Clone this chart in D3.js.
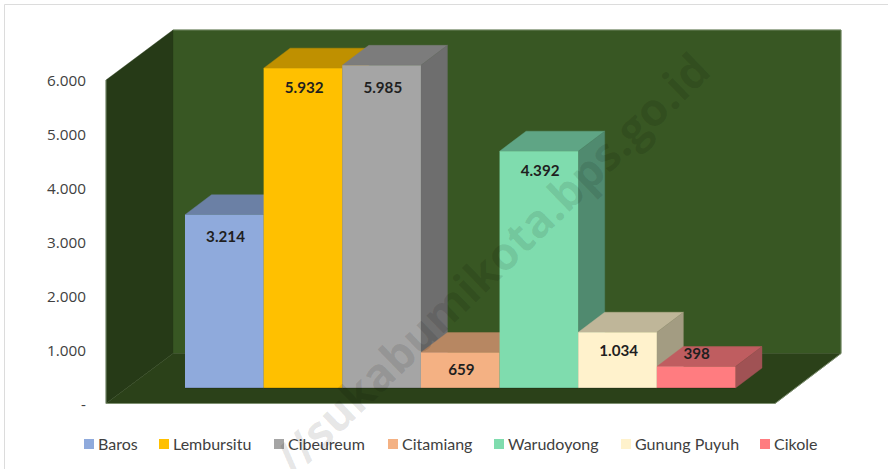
<!DOCTYPE html>
<html><head><meta charset="utf-8">
<script src="https://cdn.jsdelivr.net/npm/d3@7"></script>
<style>html,body{margin:0;padding:0;background:#fff}svg{display:block}text{font-family:Lato,"Open Sans",sans-serif}</style>
</head><body><svg id="c" width="888" height="469"></svg>
<script>
const categories=["Baros","Lembursitu","Cibeureum","Citamiang","Warudoyong","Gunung Puyuh","Cikole"];
const values=[3214,5932,5985,659,4392,1034,398];
const frontColors=["#8faadc","#ffc000","#a5a5a5","#f4b183","#7fdcae","#fff2cc","#ff7c80"];
const topColors=["#6b80a5","#bf9000","#7c7c7c","#b78762","#5fa585","#bfb699","#bf5d60"];
const sideColors=["#5f7293","#aa8000","#6e6e6e","#a37857","#508a6f","#a39c82","#a05254"];
const tickValues=[0,1000,2000,3000,4000,5000,6000];
const tickLabels=["-","1.000","2.000","3.000","4.000","5.000","6.000"];
const legendX=[84,159,274,388,494,621,760];
const watermark="//sukabumikota.bps.go.id";

const svg=d3.select("#c");
const y=d3.scaleLinear().domain([0,6000]).range([403.5,80]);
const x=d3.scaleBand().domain(categories).range([185,735.5]);
const left=106,right=775,ddx=67,ddy=-50;      // frame and its depth
const bdx=26.5,bdy=-20,baseLift=15.5;         // bar depth
const line=d3.line();
const poly=(pts,fill)=>svg.append("path").attr("d",line(pts)+"Z").attr("fill",fill).attr("stroke",fill).attr("stroke-width",0.4);

svg.append("path").attr("d","M4.5 469V4.5H888").attr("fill","none").attr("stroke","#dcdcdc").attr("stroke-width",1);

// walls
const y0=y(0),yT=y(6000);
poly([[left+ddx,yT+ddy],[right+ddx-1,yT+ddy],[right+ddx-1,y0+ddy],[left+ddx,y0+ddy]],"#385723");
svg.append("path").attr("d",line([[left+ddx,yT+ddy],[right+ddx-1,yT+ddy],[right+ddx-1,y0+ddy]])).attr("fill","none").attr("stroke","#6f8560").attr("stroke-width",1);
poly([[left,yT],[left+ddx,yT+ddy],[left+ddx,y0+ddy],[left,y0]],"#263a17");
poly([[left,y0],[right,y0],[right+ddx-1,y0+ddy],[left+ddx,y0+ddy]],"#2b4119");
svg.append("path").attr("d",line([[left,yT],[left,y0],[right,y0],[right+ddx-1,y0+ddy]])).attr("fill","none").attr("stroke","#7d8f70").attr("stroke-width",1);

// axis
const axis=d3.axisLeft(y).tickValues(tickValues).tickSize(0).tickPadding(0).tickFormat((d,i)=>tickLabels[i]);
const gA=svg.append("g").attr("transform","translate(86,1)").call(axis);
gA.select(".domain").remove();
gA.selectAll("text").attr("font-size",15.3).attr("fill","#404040").style("font-family","'Open Sans'").attr("dy","0.32em");

// bars, back to front left to right
categories.forEach((c,i)=>{
  const x0=x(c),w=x.bandwidth(),yb=y0-baseLift,yt=y(values[i])-baseLift;
  poly([[x0,yt],[x0+bdx,yt+bdy],[x0+w+bdx,yt+bdy],[x0+w,yt]],topColors[i]);
  poly([[x0+w,yt],[x0+w+bdx,yt+bdy],[x0+w+bdx,yb+bdy],[x0+w,yb]],sideColors[i]);
});
categories.forEach((c,i)=>{
  const x0=x(c),w=x.bandwidth(),yb=y0-baseLift,yt=y(values[i])-baseLift;
  svg.append("rect").attr("x",x0).attr("y",yt).attr("width",w).attr("height",yb-yt).attr("fill",frontColors[i]);
});
svg.append("path").attr("d",line([[x.range()[0],y0-baseLift],[x.range()[1],y0-baseLift]])).attr("stroke","#000").attr("stroke-opacity",0.25).attr("stroke-width",1);
// labels
const labelDy=[22,20,23,18,20,19,-13];
categories.forEach((c,i)=>{
  const yt=y(values[i])-baseLift;
  svg.append("text").attr("x",x(c)+x.bandwidth()/2+(i===6?0.5:1.2)).attr("y",yt+labelDy[i]+5)
   .attr("text-anchor","middle").attr("font-size",15.2).attr("font-weight",700).attr("fill","#1f1f1f")
   .text(d3.format(",")(values[i]).replace(/,/g,"."));
});
// legend
categories.forEach((c,i)=>{
  svg.append("rect").attr("x",legendX[i]).attr("y",439).attr("width",10).attr("height",10).attr("fill",frontColors[i]);
  svg.append("text").attr("x",legendX[i]+14).attr("y",449.5).attr("font-size",16).attr("fill","#404040").text(c);
});
// watermark
svg.append("text").attr("transform","translate(294,478) rotate(-44)").attr("font-size",45.5).attr("font-weight",700)
 .style("font-family","'Open Sans'").attr("fill","#000").attr("fill-opacity",0.1).text(watermark);
</script></body></html>
